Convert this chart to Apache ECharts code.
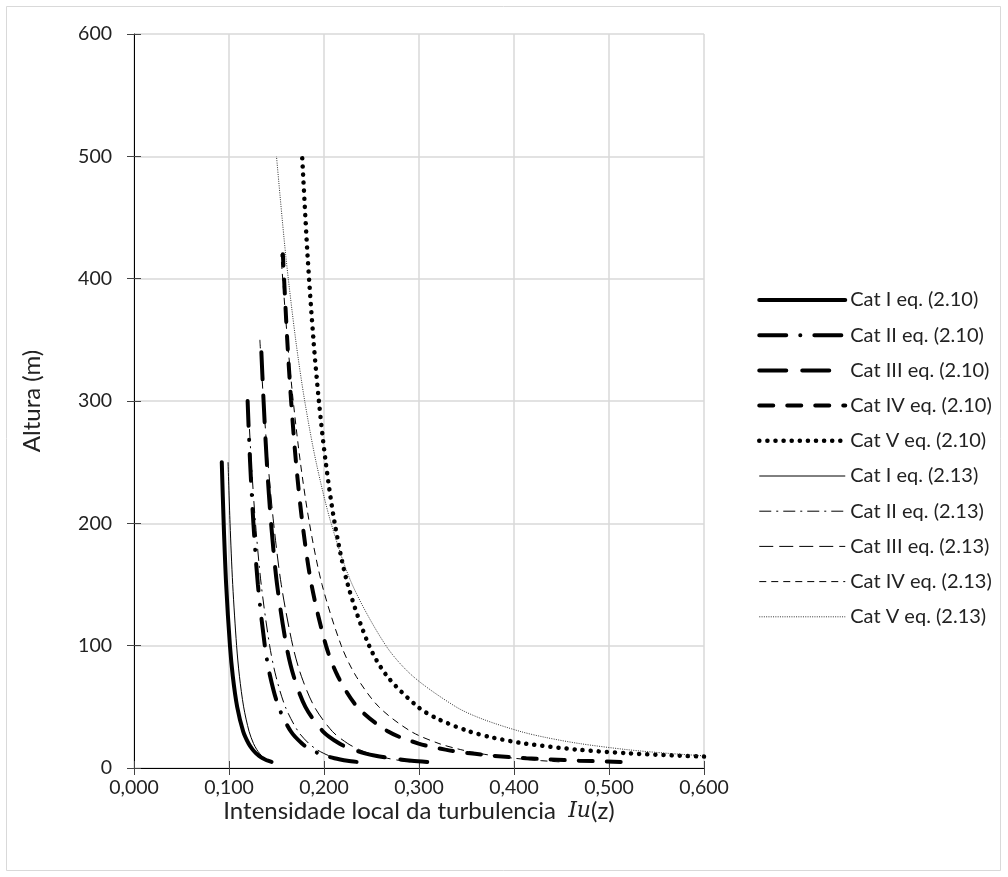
<!DOCTYPE html>
<html>
<head>
<meta charset="utf-8">
<script src="https://cdn.jsdelivr.net/npm/echarts@6/dist/echarts.min.js"></script>
<style>
  html, body { margin: 0; padding: 0; background: #fff; }
  #chart { width: 1008px; height: 877px; }
</style>
</head>
<body>
<div id="chart"></div>
<script>
// heights (m) and turbulence intensities
var zI = [5, 6, 7, 8, 10, 12, 15, 20, 30, 50, 75, 100, 150, 200, 250];
var iuI_210 = [0.1448, 0.1410, 0.1380, 0.1355, 0.1316, 0.1285, 0.1249, 0.1206, 0.1149, 0.1086, 0.1040, 0.1010, 0.0970, 0.0944, 0.0924];
var iuI_213 = [0.1436, 0.1411, 0.1390, 0.1373, 0.1344, 0.1321, 0.1293, 0.1258, 0.1211, 0.1154, 0.1110, 0.1080, 0.1039, 0.1011, 0.0990];

var zII = [5, 6, 7, 8, 10, 12, 15, 20, 30, 50, 75, 100, 150, 200, 250, 300];
var iuII_210 = [0.2343, 0.2247, 0.2171, 0.2110, 0.2015, 0.1944, 0.1863, 0.1768, 0.1650, 0.1522, 0.1433, 0.1377, 0.1304, 0.1257, 0.1222, 0.1196];
var iuII_213 = [0.2292, 0.2226, 0.2173, 0.2128, 0.2054, 0.1996, 0.1926, 0.1841, 0.1727, 0.1593, 0.1494, 0.1428, 0.1339, 0.1279, 0.1235, 0.1200];

var zIII = [5, 6, 7, 8, 10, 12, 15, 20, 30, 50, 75, 100, 150, 200, 250, 300, 350];
var iuIII_210 = [0.3087, 0.2922, 0.2797, 0.2696, 0.2543, 0.2430, 0.2305, 0.2162, 0.1988, 0.1804, 0.1681, 0.1604, 0.1506, 0.1443, 0.1398, 0.1364, 0.1335];
var iuIII_213 = [0.2908, 0.2811, 0.2732, 0.2665, 0.2558, 0.2473, 0.2373, 0.2250, 0.2087, 0.1899, 0.1762, 0.1671, 0.1550, 0.1470, 0.1410, 0.1363, 0.1325];

var zIV = [5, 6, 7, 8, 10, 12, 15, 20, 30, 50, 75, 100, 150, 200, 250, 300, 350, 420];
var iuIV_210 = [0.5123, 0.4685, 0.4370, 0.4129, 0.3781, 0.3537, 0.3278, 0.2996, 0.2671, 0.2350, 0.2146, 0.2021, 0.1868, 0.1773, 0.1705, 0.1654, 0.1613, 0.1567];
var iuIV_213 = [0.4478, 0.4286, 0.4130, 0.4000, 0.3791, 0.3629, 0.3440, 0.3210, 0.2913, 0.2577, 0.2338, 0.2182, 0.1979, 0.1847, 0.1751, 0.1676, 0.1615, 0.1546];

var zV_210 = [9.3, 10, 12, 15, 20, 25, 30, 40, 50, 75, 100, 150, 200, 250, 300, 350, 420, 500];
var iuV_210 = [0.600, 0.5756, 0.5209, 0.4667, 0.4115, 0.3768, 0.3526, 0.3201, 0.2988, 0.2665, 0.2475, 0.2250, 0.2113, 0.2018, 0.1946, 0.1889, 0.1826, 0.1770];
var zV_213 = [10, 12, 15, 20, 25, 30, 40, 50, 75, 100, 150, 200, 250, 300, 350, 420, 500];
var iuV_213 = [0.5991, 0.5617, 0.5190, 0.4688, 0.4332, 0.4061, 0.3668, 0.3389, 0.2936, 0.2652, 0.2297, 0.2075, 0.1917, 0.1797, 0.1702, 0.1596, 0.1500];

var seriesNames = [
  'Cat I eq. (2.10)', 'Cat II eq. (2.10)', 'Cat III eq. (2.10)', 'Cat IV eq. (2.10)', 'Cat V eq. (2.10)',
  'Cat I eq. (2.13)', 'Cat II eq. (2.13)', 'Cat III eq. (2.13)', 'Cat IV eq. (2.13)', 'Cat V eq. (2.13)'
];

function pairs(iu, z) {
  return iu.map(function (v, i) { return [v, z[i]]; });
}

var font = 'Lato, "Open Sans", sans-serif';
var txt = '#222';

var styles = [];

function line(name, iu, z, width, dash, cap, color) {
  var ls = { color: color || '#000', width: width, type: dash, cap: cap || 'butt' };
  styles.push(ls);
  return {
    name: name,
    type: 'line',
    data: pairs(iu, z),
    showSymbol: false,
    symbol: 'none',
    smooth: 0.3,
    lineStyle: ls,
    itemStyle: { color: color || '#000' }
  };
}

var series = [
  line(seriesNames[0], iuI_210, zI, 4, 'solid', 'round'),
  line(seriesNames[1], iuII_210, zII, 4, [27, 14, 0.1, 14], 'round'),
  line(seriesNames[2], iuIII_210, zIII, 4, [27, 16], 'round'),
  line(seriesNames[3], iuIV_210, zIV, 4, [14, 14], 'round'),
  line(seriesNames[4], iuV_210, zV_210, 4.5, [0.1, 8], 'round'),
  line(seriesNames[5], iuI_213, zI, 1, 'solid'),
  line(seriesNames[6], iuII_213, zII, 1, [12, 5, 2, 5]),
  line(seriesNames[7], iuIII_213, zIII, 1, [14, 6]),
  line(seriesNames[8], iuIV_213, zIV, 1, [7, 5]),
  line(seriesNames[9], iuV_213, zV_213, 1, [1, 1.3], 'butt', '#333')
];

var myChart = echarts.init(document.getElementById('chart'));

var option = {
  backgroundColor: '#fff',
  animation: false,
  graphic: [{
    type: 'rect',
    shape: { x: 6.5, y: 6.5, width: 994, height: 864 },
    style: { fill: 'none', stroke: '#d9d9d9', lineWidth: 1 }
  }],
  grid: { left: 134, right: 304, top: 34, bottom: 109 },
  legend: {
    orient: 'vertical',
    left: 757,
    top: 290,
    padding: 0,
    itemWidth: 86,
    itemHeight: 20,
    itemGap: 15.2,
    itemStyle: { opacity: 0 },
    data: seriesNames.map(function (n, i) {
      return { name: n, lineStyle: { width: styles[i].width, type: styles[i].type, cap: styles[i].cap, color: styles[i].color } };
    }),
    textStyle: { fontFamily: font, fontSize: 20, color: txt, lineHeight: 20 }
  },
  xAxis: [{
    type: 'value',
    min: 0, max: 0.6, interval: 0.1,
    name: '{a|Intensidade local da turbulencia  }{b|Iu}{a|(z)}',
    nameLocation: 'middle',
    nameGap: 31,
    nameMoveOverlap: false,
    nameTextStyle: {
      rich: {
        a: { fontFamily: font, fontSize: 24, color: txt },
        b: { fontFamily: '"DejaVu Serif", "Liberation Serif", serif', fontStyle: 'italic', fontSize: 22, color: txt }
      }
    },
    axisLine: { lineStyle: { color: '#000', width: 1 } },
    axisTick: { length: 7, lineStyle: { color: '#444' } },
    axisLabel: {
      fontFamily: font, fontSize: 19.5, color: txt, margin: 10,
      formatter: function (v) { return v.toFixed(3).replace('.', ','); }
    },
    splitLine: { lineStyle: { color: '#d9d9d9', width: 1.5 } }
  }, {
    type: 'value',
    min: 0, max: 0.6, interval: 0.1,
    position: 'bottom',
    axisLine: { show: false },
    axisTick: { inside: true, length: 7, lineStyle: { color: '#444' } },
    axisLabel: { show: false },
    splitLine: { show: false }
  }],
  yAxis: [{
    type: 'value',
    min: 0, max: 600, interval: 100,
    name: 'Altura (m)',
    nameLocation: 'middle',
    nameGap: 90,
    nameTextStyle: { fontFamily: font, fontSize: 24, color: txt },
    axisLine: { show: true, lineStyle: { color: '#000', width: 1 } },
    axisTick: { show: true, length: 7, lineStyle: { color: '#444' } },
    axisLabel: { fontFamily: font, fontSize: 19.5, color: txt, margin: 22 },
    splitLine: { lineStyle: { color: '#d9d9d9', width: 1.5 } }
  }, {
    type: 'value',
    min: 0, max: 600, interval: 100,
    position: 'left',
    axisLine: { show: false },
    axisTick: { show: true, inside: true, length: 7, lineStyle: { color: '#444' } },
    axisLabel: { show: false },
    splitLine: { show: false }
  }],
  series: series
};

myChart.setOption(option);
</script>
</body>
</html>
